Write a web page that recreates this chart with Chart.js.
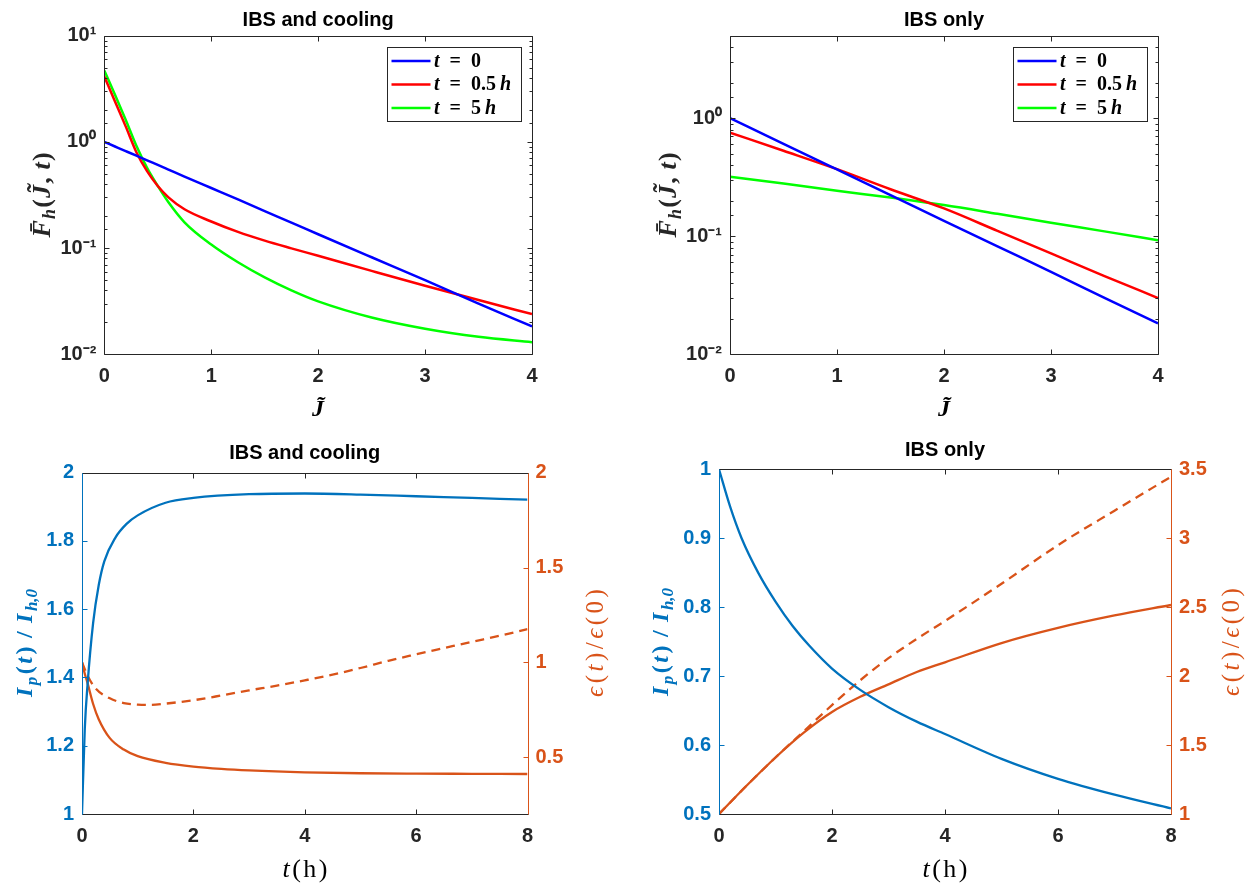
<!DOCTYPE html>
<html>
<head>
<meta charset="utf-8">
<script src="https://cdn.jsdelivr.net/npm/chart.js@4.4.1/dist/chart.umd.min.js"></script>
<style>
  body { margin: 0; background: #fff; width: 1251px; height: 884px; position: relative; overflow: hidden; }
  canvas { position: absolute; left: 0; top: 0; }
</style>
</head>
<body>
<canvas id="tl" width="1251" height="884"></canvas>
<canvas id="tr" width="1251" height="884"></canvas>
<canvas id="bl" width="1251" height="884"></canvas>
<canvas id="br" width="1251" height="884"></canvas>
<script>
'use strict';

// top left: distribution vs J, IBS and cooling
const jCool = [0, 0.1, 0.2, 0.3, 0.4, 0.5, 0.6, 0.75, 1, 1.25, 1.5, 1.75, 2, 2.5, 3, 3.5, 4];
const coolT0 = [1.0, 0.905, 0.819, 0.741, 0.670, 0.607, 0.549, 0.472, 0.368, 0.287, 0.223, 0.174, 0.135, 0.082, 0.050, 0.030, 0.0183];
const coolT05 = [4.13, 2.40, 1.40, 0.80, 0.53, 0.384, 0.30, 0.232, 0.178, 0.142, 0.1175, 0.0994, 0.0846, 0.061, 0.0442, 0.0324, 0.0239];
const coolT5 = [4.7, 2.78, 1.62, 0.92, 0.57, 0.385, 0.27, 0.175, 0.108, 0.0735, 0.053, 0.040, 0.0315, 0.0222, 0.0174, 0.0146, 0.013];

// top right: distribution vs J, IBS only
const jIbs = [0, 0.5, 1, 1.5, 2, 2.5, 3, 3.5, 4];
const ibsT0 = [1.0, 0.607, 0.368, 0.223, 0.135, 0.082, 0.050, 0.030, 0.0183];
const ibsT05 = [0.755, 0.53, 0.37, 0.25, 0.172, 0.111, 0.0715, 0.046, 0.030];
const ibsT5 = [0.32, 0.28, 0.243, 0.213, 0.184, 0.155, 0.130, 0.110, 0.0925];

// bottom left: current and emittance vs time, IBS and cooling
const tCoolI = [0, 0.05, 0.1, 0.2, 0.3, 0.4, 0.6, 0.8, 1, 1.5, 2, 3, 4, 5, 6, 7, 8];
const coolCurrent = [1.0, 1.25, 1.38, 1.56, 1.67, 1.74, 1.81, 1.85, 1.875, 1.912, 1.926, 1.937, 1.939, 1.936, 1.931, 1.926, 1.921];
const tCoolE = [0, 0.05, 0.1, 0.2, 0.3, 0.5, 0.75, 1, 1.5, 2, 2.5, 3, 4, 5, 6, 7, 8];
const coolEmitSolid = [1.0, 0.94, 0.89, 0.78, 0.70, 0.60, 0.54, 0.505, 0.47, 0.45, 0.438, 0.43, 0.42, 0.415, 0.413, 0.412, 0.411];
const tCoolD = [0, 0.1, 0.25, 0.5, 0.75, 1, 1.25, 1.5, 2, 2.5, 3, 3.5, 4, 4.5, 5, 5.5, 6, 6.5, 7, 7.5, 8];
const coolEmitDashed = [1.0, 0.93, 0.86, 0.81, 0.785, 0.777, 0.775, 0.782, 0.80, 0.825, 0.852, 0.877, 0.905, 0.935, 0.97, 1.008, 1.042, 1.075, 1.108, 1.14, 1.175];

// bottom right: current and emittance vs time, IBS only
const tIbsI = [0, 0.2, 0.4, 0.7, 1, 1.3, 1.6, 2, 2.5, 3, 3.5, 4, 5, 6, 7, 8];
const ibsCurrent = [1.0, 0.945, 0.900, 0.849, 0.808, 0.773, 0.744, 0.711, 0.680, 0.655, 0.634, 0.616, 0.580, 0.551, 0.528, 0.508];
const tIbsE = [0, 0.5, 1, 1.5, 2, 2.5, 3, 3.5, 4, 5, 6, 7, 8];
const ibsEmitSolid = [1.0, 1.21, 1.41, 1.59, 1.74, 1.85, 1.94, 2.03, 2.10, 2.24, 2.35, 2.44, 2.516];
const ibsEmitDashed = [1.0, 1.21, 1.41, 1.60, 1.79, 1.97, 2.13, 2.27, 2.40, 2.67, 2.95, 3.20, 3.446];

const legendLabels = ['t = 0', 't = 0.5 h', 't = 5 h'];

const BLUE = '#0072BD';
const ORANGE = '#D95319';
const AX = '#262626';
const SANS = '"Liberation Sans", Arial, Helvetica, sans-serif';
const SERIF = '"Liberation Serif", "DejaVu Serif", serif';
const tickFont = { family: SANS, size: 20, weight: 'bold' };
const SP = '\u2002';

// label pieces: [text, style] with b = bold, i = italic, s = subscript
const fLabel = [['F\u0304', 'bi'], ['h', 'bis'], ['(', 'b'], ['J\u0303', 'bi'], [', ', 'b'], ['t', 'bi'], [')', 'b']];
const jLabel = [['J\u0303', 'bi']];
const tLabel = [['t', 'i'], ['(', ''], ['h', ''], [')', '']];
const iLabel = [['I', 'bi'], ['p', 'bis'], ['(', 'b'], ['t', 'bi'], [')', 'b'], [' / ', 'b'], ['I', 'bi'], ['h,0', 'bis']];
const eLabel = [['\u03F5', 'i'], ['(', ''], ['t', 'i'], [')', ''], ['/', ''], ['\u03F5', 'i'], ['(', ''], ['0', ''], [')', '']];
const legendParts = [
  [['t', 'bi'], [SP + '=' + SP, 'b'], ['0', 'b']],
  [['t', 'bi'], [SP + '=' + SP, 'b'], ['0.5', 'b'], ['\u2009', 'b'], ['h', 'bi']],
  [['t', 'bi'], [SP + '=' + SP, 'b'], ['5', 'b'], ['\u2009', 'b'], ['h', 'bi']]
];

// where titles and labels go, per canvas (page pixels): [pieces, x, y, colour, size, gap]
const deco = {
  tl: { title: 'IBS and cooling', titleY: 26, xlab: [jLabel, 318, 408, '#000', 24, 0],
    ylab: [fLabel, 41, 195, AX, 26, 1.2], legend: { x: 387, y: 47, w: 134, h: 74 } },
  tr: { title: 'IBS only', titleY: 26, xlab: [jLabel, 944, 408, '#000', 24, 0],
    ylab: [fLabel, 667, 195, AX, 26, 1.2], legend: { x: 1013, y: 47, w: 134, h: 74 } },
  bl: { title: 'IBS and cooling', titleY: 459, xlab: [tLabel, 305, 868, '#000', 26, 2.5],
    ylab: [iLabel, 24, 643, BLUE, 24, 2.5], y2lab: [eLabel, 595, 643, ORANGE, 25, 3.5], yColor: BLUE },
  br: { title: 'IBS only', titleY: 456, xlab: [tLabel, 945, 868, '#000', 26, 2.5],
    ylab: [iLabel, 660, 642, BLUE, 24, 2.5], y2lab: [eLabel, 1231, 642, ORANGE, 25, 3.5], yColor: BLUE }
};

function mathFont(st, size) {
  let sz = st.includes('s') ? Math.round(size * 0.7) : size;
  return (st.includes('i') ? 'italic ' : '') + (st.includes('b') ? 'bold ' : '') + sz + 'px ' + SERIF;
}

// draws a list of pieces, centred (or left aligned) on x, y
function drawMath(ctx, parts, x, y, size, color, rot, align, gap) {
  gap = gap || 0;
  ctx.save();
  ctx.translate(x, y);
  ctx.rotate(rot || 0);
  ctx.fillStyle = color;
  ctx.textAlign = 'left';
  ctx.textBaseline = 'alphabetic';
  let total = gap * (parts.length - 1);
  let widths = parts.map(p => {
    ctx.font = mathFont(p[1], size);
    let w = ctx.measureText(p[0]).width;
    total += w;
    return w;
  });
  let cx = align === 'left' ? 0 : -total / 2;
  parts.forEach((p, i) => {
    ctx.font = mathFont(p[1], size);
    let dy = p[1].includes('s') ? size * 0.22 : 0;
    ctx.fillText(p[0], cx, size * 0.33 + dy);
    cx += widths[i] + gap;
  });
  ctx.restore();
}

function drawLabel(ctx, lab, rot) {
  drawMath(ctx, lab[0], lab[1], lab[2], lab[4], lab[3], rot, 'center', lab[5]);
}

function isDecade(v) {
  let e = Math.log10(v);
  return Math.abs(e - Math.round(e)) < 1e-6;
}

function logLabel(v) {
  if (!isDecade(v)) return '';
  const sup = { '-': '\u207B', '0': '\u2070', '1': '\u00B9', '2': '\u00B2', '3': '\u00B3' };
  return '10' + String(Math.round(Math.log10(v))).split('').map(c => sup[c]).join('');
}

function plainLabel(v) {
  return String(Number(v.toFixed(3)));
}

// frame and inward ticks like the original axes
function drawFrame(chart, d) {
  const ctx = chart.ctx;
  const a = chart.chartArea;
  const sx = chart.scales.x;
  const sy = chart.scales.y;
  const sy2 = chart.scales.y2;
  const c = v => Math.round(v) + 0.5;
  const seg = (x1, y1, x2, y2, col) => {
    ctx.strokeStyle = col;
    ctx.beginPath();
    ctx.moveTo(x1, y1);
    ctx.lineTo(x2, y2);
    ctx.stroke();
  };
  const L = c(a.left), R = c(a.right), T = c(a.top), B = c(a.bottom);
  const leftCol = d.yColor || AX;
  ctx.save();
  ctx.lineWidth = 1;
  sx.ticks.forEach(t => {
    let p = c(sx.getPixelForValue(t.value));
    seg(p, B, p, B - 5, AX);
    seg(p, T, p, T + 5, AX);
  });
  sy.ticks.forEach(t => {
    let p = c(sy.getPixelForValue(t.value));
    let len = sy.type === 'logarithmic' && !isDecade(t.value) ? 3 : 5;
    seg(L, p, L + len, p, leftCol);
    if (!sy2) seg(R, p, R - len, p, AX);
  });
  if (sy2) {
    sy2.ticks.forEach(t => {
      let p = c(sy2.getPixelForValue(t.value));
      seg(R, p, R - 5, p, ORANGE);
    });
  }
  seg(L, T, R, T, AX);
  seg(L, B, R, B, AX);
  seg(L, T, L, B, leftCol);
  seg(R, T, R, B, sy2 ? ORANGE : AX);
  ctx.restore();
}

function drawLegend(chart, box) {
  const ctx = chart.ctx;
  ctx.save();
  ctx.fillStyle = '#fff';
  ctx.fillRect(box.x, box.y, box.w, box.h);
  ctx.strokeStyle = AX;
  ctx.lineWidth = 1;
  ctx.strokeRect(box.x + 0.5, box.y + 0.5, box.w, box.h);
  chart.data.datasets.forEach((ds, i) => {
    let yy = box.y + 14 + i * 23.5;
    ctx.strokeStyle = ds.borderColor;
    ctx.lineWidth = 2.5;
    ctx.beginPath();
    ctx.moveTo(box.x + 4.5, yy);
    ctx.lineTo(box.x + 43.5, yy);
    ctx.stroke();
    drawMath(ctx, legendParts[i], box.x + 47, yy - 1, 20, '#000', 0, 'left');
  });
  ctx.restore();
}

const panelDeco = {
  id: 'panelDeco',
  afterDatasetsDraw(chart) {
    drawFrame(chart, deco[chart.canvas.id]);
  },
  afterDraw(chart) {
    const d = deco[chart.canvas.id];
    const ctx = chart.ctx;
    const a = chart.chartArea;
    ctx.save();
    ctx.font = 'bold 20px ' + SANS;
    ctx.fillStyle = '#000';
    ctx.textAlign = 'center';
    ctx.textBaseline = 'alphabetic';
    ctx.fillText(d.title, (a.left + a.right) / 2, d.titleY);
    ctx.restore();
    drawLabel(ctx, d.xlab, 0);
    drawLabel(ctx, d.ylab, -Math.PI / 2);
    if (d.y2lab) drawLabel(ctx, d.y2lab, -Math.PI / 2);
    if (d.legend) drawLegend(chart, d.legend);
  }
};

function series(xs, ys, color, width, dash, axis, label) {
  return {
    label: label || '',
    data: xs.map((x, i) => ({ x: x, y: ys[i] })),
    borderColor: color,
    borderWidth: width,
    borderDash: dash || [],
    yAxisID: axis || 'y',
    fill: false,
    pointRadius: 0,
    cubicInterpolationMode: 'monotone'
  };
}

function xAxis(min, max, step, height) {
  return {
    type: 'linear', position: 'bottom', min: min, max: max,
    grid: { display: false, drawTicks: false }, border: { display: false },
    ticks: { stepSize: step, padding: 10, color: AX, font: tickFont, maxRotation: 0, autoSkip: false, callback: plainLabel },
    afterFit: s => { s.height = height; }
  };
}

function logAxis(min, max, width) {
  return {
    type: 'logarithmic', position: 'left', min: min, max: max,
    grid: { display: false, drawTicks: false }, border: { display: false },
    ticks: { autoSkip: false, padding: 8, color: AX, font: tickFont, callback: logLabel },
    afterFit: s => { s.width = width; }
  };
}

function linAxis(min, max, step, width, pos, color, halves) {
  return {
    type: 'linear', position: pos, min: min, max: max,
    grid: { display: false, drawTicks: false }, border: { display: false },
    ticks: { stepSize: step, autoSkip: false, padding: 8, color: color, font: tickFont, callback: plainLabel },
    afterBuildTicks: s => {
      if (halves) s.ticks = s.ticks.filter(t => Math.abs(t.value * 2 - Math.round(t.value * 2)) < 1e-9);
    },
    afterFit: s => { s.width = width; }
  };
}

function options(top, right, scales) {
  return {
    responsive: false,
    animation: false,
    devicePixelRatio: 1,
    events: [],
    layout: { padding: { top: top, right: right, bottom: 0, left: 0 } },
    plugins: { legend: { display: false }, tooltip: { enabled: false }, title: { display: false } },
    scales: scales
  };
}

new Chart(document.getElementById('tl'), {
  type: 'line',
  data: { datasets: [
    series(jCool, coolT0, '#0000FF', 2.5, null, 'y', legendLabels[0]),
    series(jCool, coolT05, '#FF0000', 2.5, null, 'y', legendLabels[1]),
    series(jCool, coolT5, '#00FF00', 2.5, null, 'y', legendLabels[2])
  ] },
  options: options(35.7, 1251 - 532, { x: xAxis(0, 4, 1, 884 - 354.3), y: logAxis(0.01, 10, 104.3) }),
  plugins: [panelDeco]
});

new Chart(document.getElementById('tr'), {
  type: 'line',
  data: { datasets: [
    series(jIbs, ibsT0, '#0000FF', 2.5, null, 'y', legendLabels[0]),
    series(jIbs, ibsT05, '#FF0000', 2.5, null, 'y', legendLabels[1]),
    series(jIbs, ibsT5, '#00FF00', 2.5, null, 'y', legendLabels[2])
  ] },
  options: options(35.7, 1251 - 1158, { x: xAxis(0, 4, 1, 884 - 354.3), y: logAxis(0.01, 5, 730) }),
  plugins: [panelDeco]
});

new Chart(document.getElementById('bl'), {
  type: 'line',
  data: { datasets: [
    series(tCoolI, coolCurrent, BLUE, 2.3, null, 'y'),
    series(tCoolE, coolEmitSolid, ORANGE, 2.3, null, 'y2'),
    series(tCoolD, coolEmitDashed, ORANGE, 2.3, [9, 6], 'y2')
  ] },
  options: options(472.7, 0, {
    x: xAxis(0, 8, 2, 70),
    y: linAxis(1, 2, 0.2, 82, 'left', BLUE, false),
    y2: linAxis(0.2, 2, 0.5, 1251 - 527.5, 'right', ORANGE, true)
  }),
  plugins: [panelDeco]
});

new Chart(document.getElementById('br'), {
  type: 'line',
  data: { datasets: [
    series(tIbsI, ibsCurrent, BLUE, 2.3, null, 'y'),
    series(tIbsE, ibsEmitSolid, ORANGE, 2.3, null, 'y2'),
    series(tIbsE, ibsEmitDashed, ORANGE, 2.3, [9, 6], 'y2')
  ] },
  options: options(469.3, 0, {
    x: xAxis(0, 8, 2, 70),
    y: linAxis(0.5, 1, 0.1, 719, 'left', BLUE, false),
    y2: linAxis(1, 3.5, 0.5, 1251 - 1171, 'right', ORANGE, false)
  }),
  plugins: [panelDeco]
});
</script>
</body>
</html>
